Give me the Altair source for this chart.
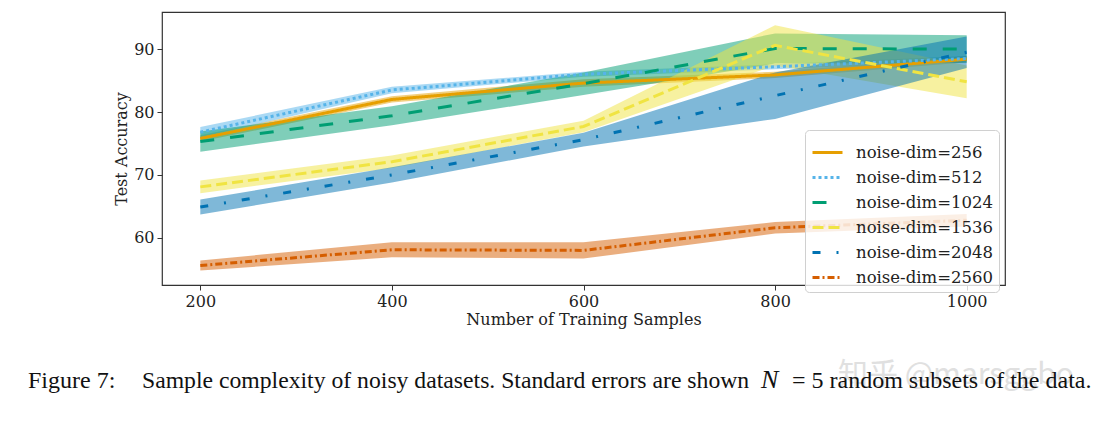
import altair as alt
import pandas as pd

# ---- data ----
samples = [200, 400, 600, 800, 1000]
series_names = ["noise-dim=256", "noise-dim=512", "noise-dim=1024",
                "noise-dim=1536", "noise-dim=2048", "noise-dim=2560"]
band_names = ["band-256", "band-512", "band-1024", "band-1536", "band-2048", "band-2560"]

mean_256 = [75.8, 82.0, 84.6, 85.9, 88.4]
se_256 = [0.5, 0.5, 0.6, 0.5, 0.5]
mean_512 = [76.8, 83.5, 86.0, 87.2, 88.5]
se_512 = [0.8, 0.5, 0.4, 0.4, 0.4]
mean_1024 = [75.3, 79.4, 84.5, 90.1, 90.0]
se_1024 = [1.6, 1.5, 1.8, 2.4, 2.2]
mean_1536 = [68.1, 72.1, 77.7, 90.6, 84.8]
se_1536 = [1.0, 1.0, 0.9, 3.2, 2.6]
mean_2048 = [64.9, 70.0, 75.6, 82.6, 89.5]
se_2048 = [1.2, 1.2, 1.1, 3.7, 2.5]
mean_2560 = [55.6, 58.1, 58.0, 61.6, 62.8]
se_2560 = [0.8, 1.2, 1.3, 0.9, 1.0]

colors = ["#E69F00", "#56B4E9", "#009E73", "#F0E442", "#0072B2", "#D55E00"]
dashes = [[1, 0], [3, 3], [14, 16], [11, 5], [8, 16, 2, 16], [7, 3, 2, 3]]

means = [mean_256, mean_512, mean_1024, mean_1536, mean_2048, mean_2560]
ses = [se_256, se_512, se_1024, se_1536, se_2048, se_2560]

rows = []
for name, band, m, s in zip(series_names, band_names, means, ses):
    for x, mv, sv in zip(samples, m, s):
        rows.append({"series": name, "band": band, "n": x, "acc": mv,
                     "lo": mv - sv, "hi": mv + sv})
df = pd.DataFrame(rows)

cap_fig = "Figure 7:"
cap_main = "Sample complexity of noisy datasets. Standard errors are shown"
cap_n = "N"
cap_end = "= 5 random subsets of the data."
watermark = "知乎 @marsggbo"

xscale = alt.Scale(domain=[160, 1040], nice=False, zero=False)
yscale = alt.Scale(domain=[52.5, 95.9], nice=False, zero=False)

xax = alt.Axis(values=samples, format="d", title="Number of Training Samples", grid=False,
               labelFont="DejaVu Serif", labelFontSize=16, labelColor="#222",
               titleFont="DejaVu Serif", titleFontSize=16, titleFontWeight="normal",
               titleColor="#222", tickSize=5, tickColor="#333", domain=False,
               labelPadding=3, titlePadding=2)
yax = alt.Axis(values=[60, 70, 80, 90], title="Test Accuracy", grid=False,
               labelFont="DejaVu Serif", labelFontSize=16, labelColor="#222",
               titleFont="DejaVu Serif", titleFontSize=16, titleFontWeight="normal",
               titleColor="#222", tickSize=5, tickColor="#333", domain=False,
               labelPadding=3, titlePadding=4)


def make_legend():
    return alt.Legend(title=None, orient="none", legendX=643, legendY=118,
                      symbolType="stroke", symbolStrokeWidth=3,
                      symbolSize=900, labelFont="DejaVu Serif",
                      labelFontSize=16.5, labelColor="#222",
                      fillColor="rgba(255,255,255,0.8)",
                      strokeColor="#d0d0d0", cornerRadius=4,
                      padding=6, rowPadding=0, labelOffset=12)


base = alt.Chart(df)

bands = base.mark_area(opacity=0.5, interpolate="linear").encode(
    x=alt.X("n:Q", scale=xscale, axis=xax),
    y=alt.Y("lo:Q", scale=yscale, axis=yax),
    y2="hi:Q",
    fill=alt.Fill("band:N", scale=alt.Scale(domain=band_names, range=colors),
                  legend=None),
    detail="band:N",
)

lines = base.mark_line(strokeWidth=3, strokeCap="butt").encode(
    x=alt.X("n:Q", scale=xscale),
    y=alt.Y("acc:Q", scale=yscale),
    color=alt.Color("series:N", scale=alt.Scale(domain=series_names, range=colors),
                    legend=make_legend()),
    strokeDash=alt.StrokeDash("series:N",
                              scale=alt.Scale(domain=series_names, range=dashes),
                              legend=make_legend()),
)

cap_df = pd.DataFrame({"f": [cap_fig], "a": [cap_main], "n": [cap_n],
                       "b": [cap_end], "w": [watermark]})
cap_base = alt.Chart(cap_df)


def cap_text(field, xpos, italic=False, size=24):
    kw = dict(align="left", baseline="alphabetic", font="Liberation Serif",
              fontSize=size, color="#111")
    if italic:
        kw["fontStyle"] = "italic"
    return cap_base.mark_text(**kw).encode(
        text=f"{field}:N", x=alt.value(xpos), y=alt.value(376))


wm = cap_base.mark_text(align="left", baseline="alphabetic", font="Noto Sans CJK SC",
                        fontSize=30, color="#cccccc", opacity=0.6).encode(
    text="w:N", x=alt.value(676), y=alt.value(372))

chart = alt.layer(
    bands, lines, wm,
    cap_text("f", -134), cap_text("a", -20, size=23.7),
    cap_text("n", 599, italic=True, size=26),
    cap_text("b", 630),
).properties(
    width=843, height=273,
    padding={"left": 154, "top": 4, "right": 100, "bottom": 130},
    autosize=alt.AutoSizeParams(type="none"),
).configure(
    background="white",
    view=alt.ViewConfig(stroke="#333", strokeWidth=1.2),
)

chart.save("out.html", embed_options={"renderer": "svg", "actions": False})
